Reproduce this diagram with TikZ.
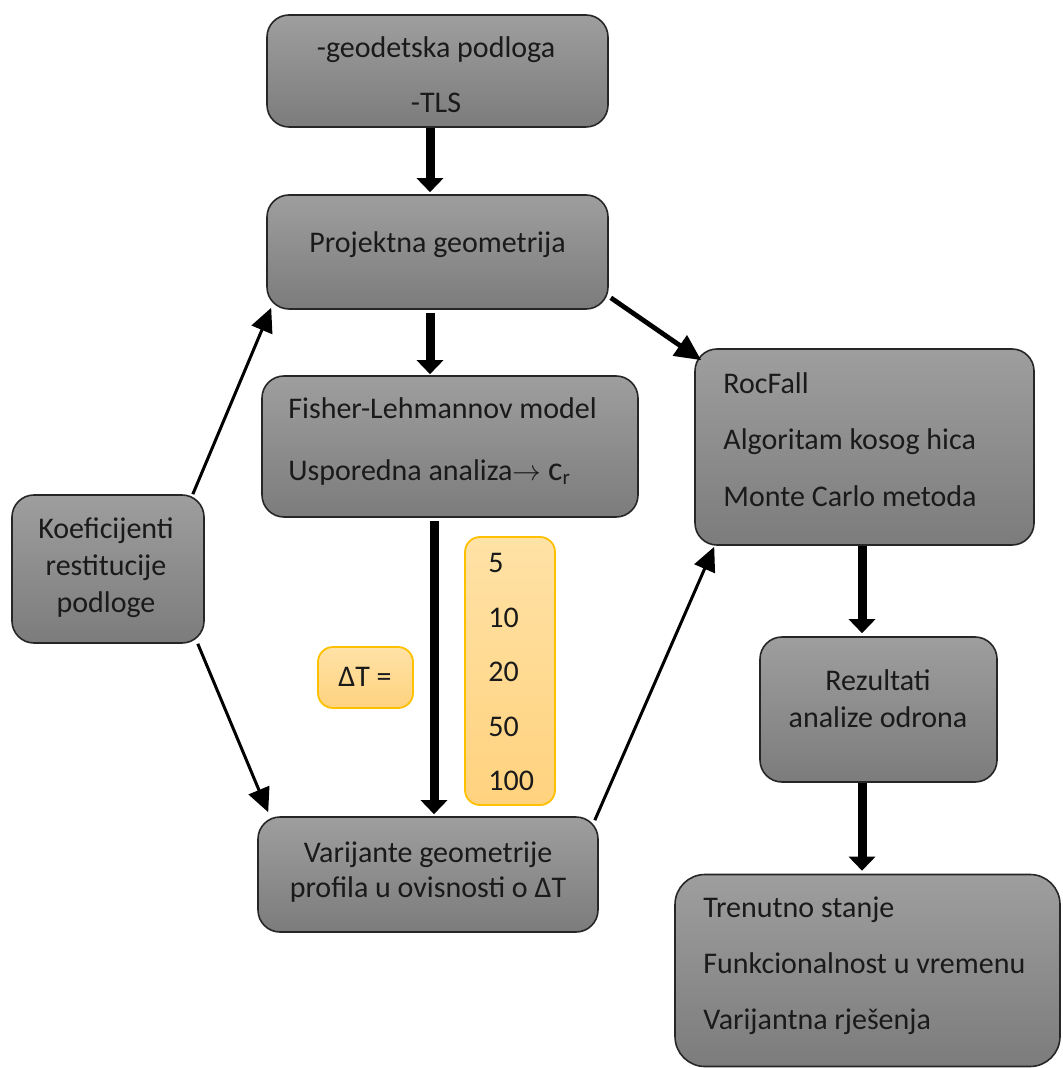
\documentclass[tikz,border=0pt]{standalone}
\usepackage{fontspec}
\setmainfont{Carlito}
\usetikzlibrary{arrows.meta,calc}
\definecolor{gtop}{HTML}{9E9E9E}
\definecolor{gbot}{HTML}{7C7C7C}
\definecolor{otop}{HTML}{FFE2A6}
\definecolor{obot}{HTML}{FFD27E}
\definecolor{oline}{HTML}{FFC000}
\definecolor{txt}{HTML}{1A1A1A}
\tikzset{
  gbox/.style={draw=black!85, line width=0.8pt, rounded corners=11pt,
    top color=gtop, bottom color=gbot, inner sep=0pt},
  obox/.style={draw=oline, line width=0.9pt, rounded corners=7.5pt,
    top color=otop, bottom color=obot, inner sep=0pt},
  lbl/.style={inner sep=0pt, text=txt, align=center, font=\fontsize{15}{#1}\selectfont},
  lbl/.default=18,
  lbll/.style={inner sep=0pt, text=txt, align=flush left, anchor=west, font=\fontsize{15}{#1}\selectfont},
  bigarrow/.style={line width=4.5pt, -{Triangle[width=13pt,length=7pt]}},
  midarrow/.style={line width=2.4pt, -{Triangle[width=12pt,length=13pt]}},
  thinarrow/.style={line width=1.5pt, -{Triangle[width=11pt,length=12pt]}},
}
\begin{document}
\begin{tikzpicture}[x=0.5pt,y=-0.5pt]
\useasboundingbox (0,0) rectangle (1062,1068);
% boxes
\node[gbox, minimum width=170.5pt, minimum height=56pt] (b1) at (437.5,71) {};
\node[gbox, minimum width=170.5pt, minimum height=57pt] (b2) at (437.5,252) {};
\node[gbox, minimum width=188pt, minimum height=70.5pt] (b3) at (450,446.5) {};
\node[gbox, minimum width=96pt, minimum height=74pt] (koef) at (108,569) {};
\node[obox, minimum width=47.5pt, minimum height=30.5pt] (dt) at (365.5,677.5) {};
\node[obox, minimum width=45pt, minimum height=134pt] (nums) at (510,671) {};
\node[gbox, minimum width=170pt, minimum height=57.5pt] (var) at (428,874.5) {};
\node[gbox, minimum width=169.5pt, minimum height=98pt] (roc) at (864.5,447) {};
\node[gbox, minimum width=118.5pt, minimum height=72.5pt] (rez) at (878.5,709.5) {};
\node[gbox, minimum width=192.5pt, minimum height=96pt, rounded corners=15pt] (tre) at (867.5,970.5) {};
% texts
\node[lbl=27.5] (b1t) at (436,74.5) {-geodetska podloga\\-TLS};
\node[lbl] (b2t) at (437.5,245) {Projektna geometrija};
\node[lbll=31] (b3t) at (288,441.5) {Fisher-Lehmannov model\\Usporedna analiza$\rightarrow$ {\fontsize{17}{17}\selectfont c}\textsubscript{r}};
\node[lbl=18.5] (koeft) at (106,568) {Koeficijenti\\restitucije\\podloge};
\node[lbl] (dtt) at (365,677) {ΔT =};
\node[lbll=27.25] (numst) at (488,672) {5\\10\\20\\50\\100};
\node[lbl=17.5] (vart) at (428,872.5) {Varijante geometrije\\profila u ovisnosti o ΔT};
\node[lbll=28.25] (roct) at (723,439.5) {RocFall\\Algoritam kosog hica\\Monte Carlo metoda};
\node[lbl=18.5] (rezt) at (878,698.5) {Rezultati\\analize odrona};
\node[lbll=28] (tret) at (703,966) {Trenutno stanje\\Funkcionalnost u vremenu\\Varijantna rješenja};
% thick vertical arrows
\draw[bigarrow] ($(b1.south)+(-7.5,0)$) -- ($(b2.north)+(-7.5,-2)$);
\draw[bigarrow] ($(b2.south)+(-7.5,3)$) -- ($(b3.north)+(-20,-1)$);
\draw[bigarrow] ($(b3.south)+(-16,3)$) -- ($(var.north)+(6,-2)$);
\draw[bigarrow] ($(roc.south)+(-2.5,0)$) -- ($(rez.north)+(-16.5,-3)$);
\draw[bigarrow] ($(rez.south)+(-16.5,0)$) -- ($(tre.north)+(-5.5,-3)$);
% diagonal arrows
\draw[thinarrow] ($(koef.north east)+(-12,0)$) -- ($(b2.south west)+(5,-2)$);
\draw[thinarrow] ($(koef.south east)+(-7,0)$) -- ($(var.north west)+(11,-4)$);
\draw[thinarrow] ($(var.north east)+(-4,4)$) -- ($(roc.south west)+(20,1)$);
\draw[midarrow] ($(b2.south east)+(2,-12)$) -- ($(roc.north west)+(7,12)$);
\end{tikzpicture}
\end{document}
